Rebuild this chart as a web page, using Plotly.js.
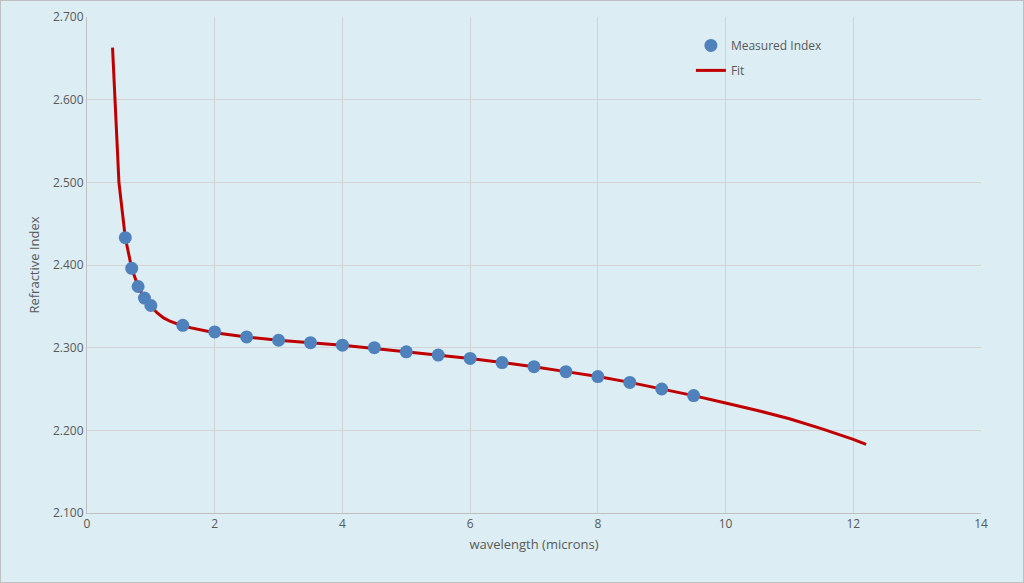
<!DOCTYPE html>
<html>
<head>
<meta charset="utf-8">
<script src="https://cdn.plot.ly/plotly-3.0.1.min.js"></script>
<style>
html,body{margin:0;padding:0;background:#DCEDF3;}
#chart{width:1024px;height:583px;}
#frame{position:absolute;left:0;top:0;width:1022px;height:581px;border:1px solid #BFBFBF;pointer-events:none;}
</style>
</head>
<body>
<div id="chart"></div>
<div id="frame"></div>
<script>
const measuredWavelength = [0.6,0.7,0.8,0.9,1.0,1.5,2,2.5,3,3.5,4,4.5,5,5.5,6,6.5,7,7.5,8,8.5,9,9.5];
const measuredIndex = [2.433,2.396,2.374,2.360,2.351,2.327,2.319,2.313,2.309,2.306,2.303,2.300,2.295,2.291,2.287,2.282,2.277,2.271,2.265,2.258,2.250,2.242];
const fitWavelength = [0.4,0.5,0.6,0.7,0.8,0.9,1.0,1.1,1.2,1.3,1.5,2,2.5,3,3.5,4,4.5,5,5.5,6,6.5,7,7.5,8,8.5,9,9.5,10,10.5,11,11.5,12,12.2];
const fitIndex = [2.663,2.500,2.433,2.396,2.374,2.360,2.350,2.342,2.336,2.332,2.326,2.318,2.313,2.309,2.306,2.303,2.299,2.295,2.291,2.287,2.282,2.277,2.271,2.265,2.258,2.250,2.242,2.233,2.224,2.214,2.202,2.189,2.183];
const xTicks = [0,2,4,6,8,10,12,14];
const yTicks = [2.1,2.2,2.3,2.4,2.5,2.6,2.7];

const fontFam = '"Open Sans", "Liberation Sans", sans-serif';
const grey = '#595959';

const traces = [
  {x: fitWavelength, y: fitIndex, type:'scatter', mode:'lines', name:'Fit', legendgroup:'b', legendrank:2,
   line:{color:'#C00000', width:3, shape:'linear'}},
  {x: measuredWavelength, y: measuredIndex, type:'scatter', mode:'markers', name:'Measured Index', legendgroup:'a', legendrank:1,
   marker:{color:'#4F81BD', size:13}}
];

const layout = {
  width:1024, height:583,
  paper_bgcolor:'#DCEDF3', plot_bgcolor:'#DCEDF3',
  margin:{l:87, r:43, t:17, b:70},
  font:{family:fontFam, color:grey, size:12},
  showlegend:true,
  legend:{x:0.6755, y:0.972, xanchor:'left', yanchor:'top', bgcolor:'rgba(0,0,0,0)',
    font:{family:fontFam, size:12, color:grey}, traceorder:'grouped', tracegroupgap:6, itemwidth:30},
  xaxis:{range:[0,14], tickvals:xTicks, ticktext:xTicks.map(String),
    showgrid:true, gridcolor:'#D3D3D3', gridwidth:1, zeroline:false,
    showline:true, linecolor:'#BFBFBF', linewidth:1, ticks:'',
    title:{text:'wavelength (microns)', font:{family:fontFam, size:13, color:grey}, standoff:8}},
  yaxis:{range:[2.1,2.7], tickvals:yTicks, ticktext:yTicks.map(v=>v.toFixed(3)),
    showgrid:true, gridcolor:'#D3D3D3', gridwidth:1, zeroline:false,
    showline:true, linecolor:'#BFBFBF', linewidth:1, ticks:'',
    title:{text:'Refractive Index', font:{family:fontFam, size:13, color:grey}, standoff:10}}
};

Plotly.newPlot('chart', traces, layout, {displayModeBar:false, staticPlot:true});
</script>
</body>
</html>
